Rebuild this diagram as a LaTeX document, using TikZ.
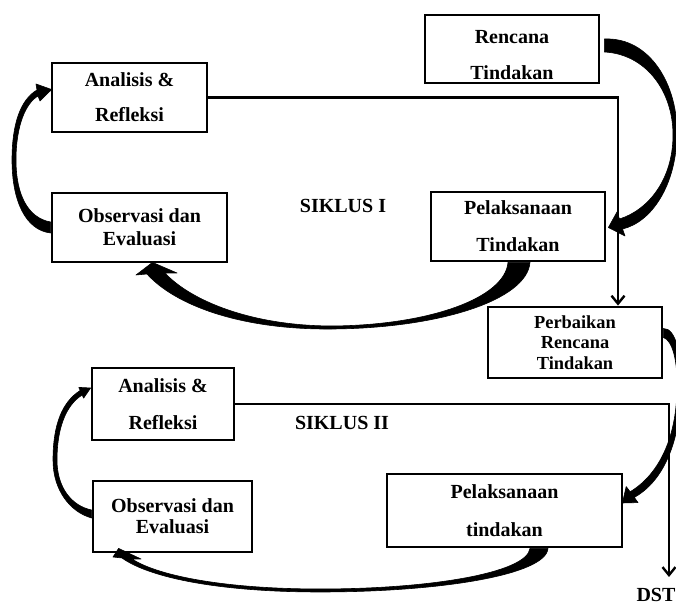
\documentclass[tikz,border=0pt]{standalone}
\usepackage{fontspec}
\setmainfont{Liberation Serif}
\usetikzlibrary{arrows.meta}
\tikzset{
  box/.style = {draw, line width=1.4pt, align=center, inner sep=0pt, font=\bfseries},
  conn/.style = {line width=1.3pt, -{Straight Barb[length=4pt,width=6.5pt,line width=1.2pt]}},
  bigarc/.style = {fill=black, draw=black, line width=0.3pt, line join=round}
}

\begin{document}
\begin{tikzpicture}[x=0.5pt, y=-0.5pt]
\useasboundingbox (0,0) rectangle (676,603);

% siklus I
\node (ren)  at (512,49)    [box, minimum width=87pt, minimum height=34pt] {\rule{0pt}{13pt}Rencana\\[6pt]Tindakan};
\node (ana1) at (129.5,97.5) [box, minimum width=77.5pt, minimum height=34.5pt] {Analisis \&\\[5.5pt]Refleksi};
\node (obs1) at (139.5,227.5) [box, minimum width=87.5pt, minimum height=34.5pt] {Observasi dan\\[-0.5pt]Evaluasi};
\node (pel1) at (518,226.5) [box, minimum width=87pt, minimum height=34.5pt] {Pelaksanaan\\[6.5pt]Tindakan};
\node (sik1) at (343,206) [font=\bfseries] {SIKLUS I};

\node (perb) at (575,342.5) [box, minimum width=87pt, minimum height=35.5pt, font=\bfseries\fontsize{9.2}{10.3}\selectfont] {Perbaikan\\Rencana\\Tindakan};

% siklus II
\node (ana2) at (163,404)   [box, minimum width=71pt, minimum height=36pt] {Analisis \&\\[6.5pt]Refleksi};
\node (obs2) at (172.5,516.5) [box, minimum width=79.5pt, minimum height=35.5pt] {Observasi dan\\[-1.5pt]Evaluasi};
\node (pel2) at (504.5,510.5) [box, minimum width=117.5pt, minimum height=36.5pt] {Pelaksanaan\\[7pt]tindakan};
\node (sik2) at (342,423) [font=\bfseries] {SIKLUS II};
\node (dst) at (656,588) [anchor=north, inner sep=0pt, font=\bfseries] {DST};

\draw[conn] (ana1.east) -| ([shift={(43,0)}]perb.north);
\draw[conn] (ana2.east) -| ([shift={(13,-11)}]dst.north);

% rencana -> pelaksanaan
\fill[bigarc] ([shift={(4,-10)}]ren.east) .. controls (650,37) and (678,85) .. (677,135)
  .. controls (676,185) and (652,222) .. (622.5,229)
  -- (625,236) -- ([shift={(2,1)}]pel1.east) -- (617,212) -- (619.5,219)
  .. controls (648,210) and (673,180) .. (673,135)
  .. controls (673,90) and (645,54) .. ([shift={(4,3)}]ren.east) -- cycle;

% pelaksanaan -> observasi
\fill[bigarc] ([shift={(12,0)}]pel1.south) .. controls (527,300) and (440,328) .. (333,329)
  .. controls (240,330) and (175,305) .. (147,274)
  -- (136,275) -- ([shift={(13,-1)}]obs1.south) -- (177,273) -- (165,273)
  .. controls (190,300) and (250,326) .. (333,326)
  .. controls (430,325) and (505,298) .. ([shift={(-10,0)}]pel1.south) -- cycle;

% observasi -> analisis
\fill[bigarc] ([shift={(0,5.5)}]obs1.west) .. controls (25,230) and (12,200) .. (12,160)
  .. controls (12,125) and (20,100) .. (37,90)
  -- (36,84) -- ([shift={(1,-8)}]ana1.west) -- (40,101) -- (38,96)
  .. controls (26,103) and (16,125) .. (16,160)
  .. controls (16,195) and (28,218) .. ([shift={(0,-5.5)}]obs1.west) -- cycle;

% perbaikan -> pelaksanaan
\fill[bigarc] ([shift={(0,-14)}]perb.east) .. controls (676,328) and (682,355) .. (681,390)
  .. controls (680,445) and (662,482) .. (634.3,497.4)
  -- (638,502.6) -- ([shift={(-1,-7.5)}]pel2.east) -- (626.2,486.6) -- (630.1,491.8)
  .. controls (658,475) and (676,440) .. (677,390)
  .. controls (678,360) and (672,340) .. ([shift={(0,-5)}]perb.east) -- cycle;

% pelaksanaan -> observasi
\fill[bigarc] ([shift={(43.5,0)}]pel2.south) .. controls (546,575) and (440,592) .. (320,592)
  .. controls (220,592) and (150,578) .. (122,558)
  -- (113,557) -- ([shift={(27,-5)}]obs2.south west) -- (141,559) -- (132,559)
  .. controls (160,577) and (230,589) .. (320,589)
  .. controls (430,589) and (527,573) .. ([shift={(25.5,0)}]pel2.south) -- cycle;

% observasi -> analisis
\fill[bigarc] ([shift={(0,1.5)}]obs2.west) .. controls (70,512) and (53,490) .. (53,460)
  .. controls (53,425) and (62,402) .. (80.2,390.5)
  -- (78.8,387.4) -- ([shift={(0,-16)}]ana2.west) -- (83.6,398.2) -- (82.2,395)
  .. controls (66,405) and (57,428) .. (57,460)
  .. controls (57,488) and (72,506) .. ([shift={(0,-6.5)}]obs2.west) -- cycle;
\end{tikzpicture}
\end{document}
